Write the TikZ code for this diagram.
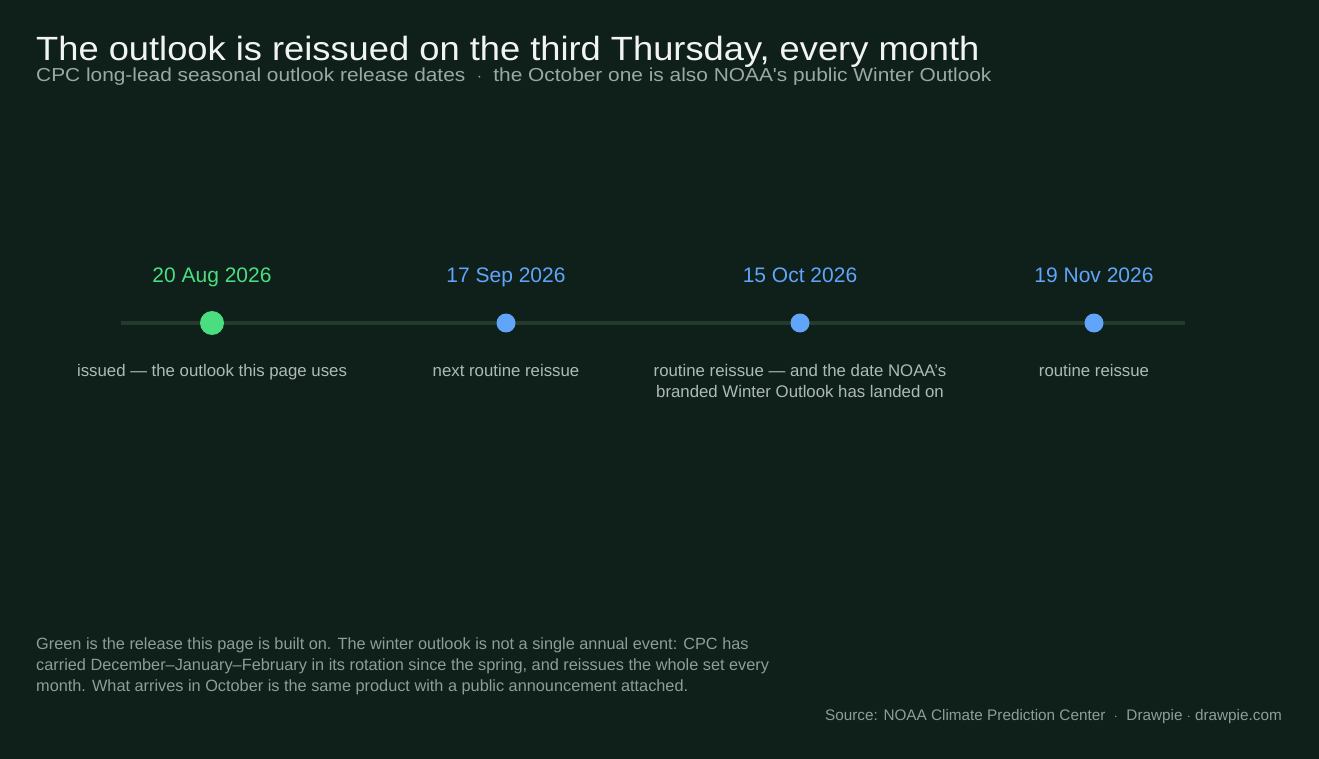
\documentclass[tikz,border=0pt]{standalone}
\usepackage{fontspec}
\setmainfont{Liberation Sans}
\newfontfamily\titlefont[FakeStretch=1.08]{Liberation Sans}
\newfontfamily\subfont[FakeStretch=1.11]{Liberation Sans}
\definecolor{bg}{HTML}{0F1F1A}
\definecolor{titlec}{HTML}{F2F4F3}
\definecolor{subc}{HTML}{9AAAA2}
\definecolor{descc}{HTML}{AEBBB4}
\definecolor{notec}{HTML}{8E9D96}
\definecolor{linec}{HTML}{243A2F}
\definecolor{greenc}{HTML}{4ADE80}
\definecolor{bluec}{HTML}{60A5FA}
\tikzset{
  datelbl/.style={font=\fontsize{21}{25}\selectfont, anchor=base, inner sep=0pt},
  desclbl/.style={font=\fontsize{16.8}{21}\selectfont, text=descc, align=center, anchor=north, inner sep=0pt},
  dot/.style={circle, inner sep=0pt, minimum size=#1},
}
\begin{document}
\begin{tikzpicture}[x=1pt,y=-1pt]
\fill[bg] (0,0) rectangle (1319,759);
\useasboundingbox (0,0) rectangle (1319,759);
\node[anchor=base west, inner sep=0pt, text=titlec, font=\titlefont\fontsize{33.6}{40}\selectfont] (title) at (36,60.5) {The outlook is reissued on the third Thursday, every month};
\node[anchor=base west, inner sep=0pt, text=subc, font=\subfont\fontsize{18.8}{24}\selectfont] (sub) at (36,82) {CPC long-lead seasonal outlook release dates \ $\cdot$ \ the October one is also NOAA's public Winter Outlook};
\coordinate (ls) at (121,322.5);
\coordinate (le) at (1185,322.5);
\draw[linec, line width=4pt] (ls) -- (le);
\node[dot=24pt, fill=greenc] (d1) at (212,323) {};
\node[dot=19pt, fill=bluec] (d2) at (506,323) {};
\node[dot=19pt, fill=bluec] (d3) at (800,323) {};
\node[dot=19pt, fill=bluec] (d4) at (1094,323) {};
\node[datelbl, text=greenc] (t1) at (212,283) {20 Aug 2026};
\node[datelbl, text=bluec] (t2) at (506,283) {17 Sep 2026};
\node[datelbl, text=bluec] (t3) at (800,283) {15 Oct 2026};
\node[datelbl, text=bluec] (t4) at (1094,283) {19 Nov 2026};
\node[desclbl] (c1) at (212,364) {issued — the outlook this page uses};
\node[desclbl] (c2) at (506,364) {next routine reissue};
\node[desclbl] (c3) at (800,364) {routine reissue — and the date NOAA's\\branded Winter Outlook has landed on};
\node[desclbl] (c4) at (1094,364) {routine reissue};
\node[anchor=north west, inner sep=0pt, text=notec, align=left, font=\fontsize{16.3}{21.2}\selectfont] (note) at (36,637) {Green is the release this page is built on. The winter outlook is not a single annual event: CPC has\\carried December–January–February in its rotation since the spring, and reissues the whole set every\\month. What arrives in October is the same product with a public announcement attached.};
\node[anchor=base east, inner sep=0pt, text=notec, font=\fontsize{15.3}{18}\selectfont] (src) at (1282,720) {Source: NOAA Climate Prediction Center \ $\cdot$ \ Drawpie $\cdot$ drawpie.com};
\end{tikzpicture}
\end{document}
